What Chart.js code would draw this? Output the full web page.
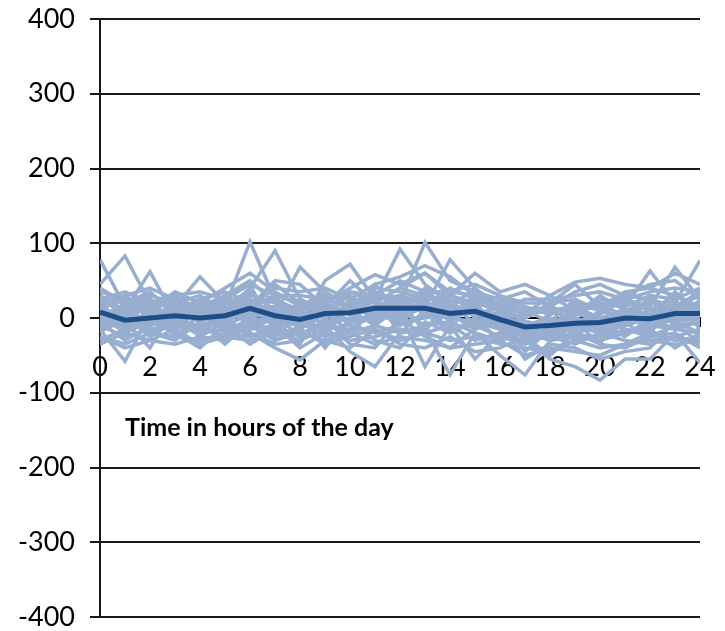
<!DOCTYPE html>
<html>
<head>
<meta charset="utf-8">
<script src="https://cdn.jsdelivr.net/npm/chart.js@4.4.1/dist/chart.umd.min.js"></script>
<style>
  html, body { margin: 0; padding: 0; background: #ffffff; }
  #wrap { width: 725px; height: 631px; position: relative; }
</style>
</head>
<body>
<div id="wrap"><canvas id="c" width="725" height="631"></canvas></div>
<script>
// Hours of the day (x categories)
const hours = [0,1,2,3,4,5,6,7,8,9,10,11,12,13,14,15,16,17,18,19,20,21,22,23,24];
// Y-axis range / tick step
const yMin = -400, yMax = 400, yStep = 100;
const xTitle = "Time in hours of the day";

// Average line (dark)
const meanSeries = [8,-3,0,3,0,3,13,3,-2,6,7,13,13,13,6,9,-2,-12,-10,-7,-6,0,-1,6,6];

// Individual day series (light)
const s1  = [78,15,25,10,5,20,35,10,0,25,15,30,20,30,15,10,0,-15,5,15,0,10,20,15,35];
const s2  = [45,83,20,-5,15,10,40,90,25,5,35,20,15,10,40,25,15,-5,-10,5,30,10,5,15,10];
const s3  = [-15,-58,5,30,10,15,102,25,10,15,5,25,92,45,20,5,0,-25,-20,10,15,5,25,10,20];
const s4  = [30,10,62,0,15,5,25,5,68,35,15,10,20,101,50,35,25,10,15,-5,5,25,15,68,25];
const s5  = [5,-5,-40,15,55,20,15,15,-15,50,72,25,30,15,78,40,15,5,10,15,20,15,63,20,77];
const s6  = [20,30,10,35,20,40,60,35,15,20,40,58,45,60,30,60,35,45,30,48,53,45,40,60,45];
const s7  = [-35,-20,-30,-35,-25,-30,-20,-40,-56,-30,-20,-35,-25,-30,-40,-35,-30,-50,-40,-45,-50,-35,-30,-25,-35];
const s8  = [0,-10,5,-20,-40,-10,-35,-15,-20,-10,-45,-65,-20,-15,-76,-20,-50,-76,-30,-20,-30,-20,-15,-40,-20];
const s9  = [10,5,-10,5,0,-5,10,-5,-10,10,5,10,5,-65,-10,-55,-20,-30,-55,-65,-83,-55,-55,-20,-60];
const s10 = [15,0,15,20,30,10,20,10,5,0,20,15,30,20,10,15,-5,-10,-5,0,-10,0,10,30,15];
const s11 = [-10,-25,-15,-10,-20,-15,-5,-20,-30,-15,-10,-20,-10,5,-15,-10,-25,-35,-20,-25,-30,-15,-25,-10,-5];
const s12 = [25,20,30,20,10,25,15,30,20,15,10,40,35,25,30,20,10,0,20,25,10,30,25,15,30];
const s13 = [-5,-15,0,-5,5,-10,5,-30,-10,5,-5,0,10,-10,5,15,-10,-20,-15,-10,-20,-10,0,-5,0];
const s14 = [35,25,15,25,15,30,50,20,10,30,25,20,40,30,20,25,20,5,30,10,20,15,30,25,40];
const s15 = [-25,-35,-20,-25,-30,-20,-25,-10,-40,-20,-30,-25,-15,-20,-30,-25,-35,-40,-45,-30,-40,-35,-20,-30,-25];
const s16 = [10,-5,0,10,-5,5,0,-5,15,5,10,5,0,15,10,5,15,-5,-10,-20,-5,5,-10,5,10];
const s17 = [0,10,-5,0,10,0,20,-10,-5,25,15,10,25,5,0,10,5,-15,-5,5,0,-5,5,0,5];
const s18 = [20,-10,10,-15,0,15,-10,5,-25,-5,10,-10,15,10,-20,0,-10,-25,-15,-5,-15,10,-5,10,-10];
const s19 = [-20,5,-25,-5,-15,-5,-15,0,-5,-25,-15,5,-5,0,5,-15,5,-10,0,-15,-5,-25,0,-15,-5];
const s20 = [5,15,5,10,25,0,30,20,0,15,20,35,10,40,25,15,30,15,5,20,10,0,20,20,15];
const s21 = [-30,-15,-5,-20,-10,-25,-30,-20,-15,-35,-25,-15,-30,-20,-10,-30,-20,-30,-25,-35,-20,-30,-35,-25,-15];
const s22 = [15,25,0,20,5,30,10,45,20,10,30,5,20,35,15,40,5,0,15,5,25,20,10,5,20];
const s23 = [-10,0,-20,-30,-5,-35,-5,-25,5,-40,0,-30,-40,-5,-20,-5,-15,-35,-10,-30,-25,-5,-30,-35,-30];
const s24 = [25,35,20,30,35,25,45,30,30,25,35,30,50,35,35,30,10,25,25,30,35,25,35,40,35];
const s25 = [-5,-30,-10,0,-25,-5,-20,-35,-30,0,-35,-40,0,-25,-40,-15,-5,-55,-35,-40,-55,-45,-40,-5,-35];
const s26 = [40,20,35,5,25,35,20,40,35,40,25,45,55,70,55,30,25,35,15,35,45,30,45,50,25];
const s27 = [0,5,20,-5,-10,0,5,0,10,-10,0,0,5,20,0,-5,0,-5,-25,0,-10,5,-15,0,0];
const s28 = [-25,-40,-30,-15,-35,-25,-10,-30,-20,-30,-40,-15,-35,-40,-25,-45,-40,-25,-50,-20,-35,-40,-25,-20,-40];
const s29 = [10,30,40,25,0,10,15,50,45,15,50,20,40,60,35,45,30,20,20,45,15,35,40,30,10];
const s30 = [-15,-5,-15,-10,-20,-15,-15,-10,-25,-5,-20,-10,-20,-10,-5,-20,-30,-20,-30,-10,-20,-20,-10,-15,-20];
const s31 = [5,-20,-5,5,-15,10,25,-5,-35,20,5,-5,20,25,-5,20,-15,-10,-30,-25,0,-15,-20,20,-10];
const s32 = [-20,10,25,-10,20,-20,0,15,5,-20,15,25,-20,10,25,-10,20,5,10,-5,-35,20,15,-10,25];
const s33 = [25,5,-25,15,-5,25,45,-20,15,35,-10,30,25,-20,35,0,-30,10,-5,25,-15,-10,30,-5,-20];
const s34 = [-5,20,15,-25,5,-15,-5,30,-15,5,-5,45,5,15,-15,30,10,-20,0,-15,10,30,-5,35,5];
const s35 = [15,-15,10,5,-20,5,35,10,-5,-15,25,-5,30,5,25,-10,0,-45,-15,15,-10,-5,25,-10,15];
const s36 = [-10,15,-10,20,0,-5,-25,-15,25,10,-20,15,-10,30,10,5,-5,-15,-25,5,20,-20,-5,25,-15];

const daySeries = [s1,s2,s3,s4,s5,s6,s7,s8,s9,s10,s11,s12,s13,s14,s15,s16,s17,s18,s19,s20,s21,s22,s23,s24,s25,s26,s27,s28,s29,s30,s31,s32,s33,s34,s35,s36];

const LIGHT = '#98aed0';
const DARK = '#1f4e87';

const datasets = [{
  label: 'Average',
  data: meanSeries,
  borderColor: DARK,
  borderWidth: 5,
  pointRadius: 0,
  tension: 0,
  fill: false,
  order: 0
}];
daySeries.forEach((s, i) => {
  datasets.push({
    label: 'Day ' + (i + 1),
    data: s,
    borderColor: LIGHT,
    borderWidth: 3.5,
    pointRadius: 0,
    tension: 0,
    fill: false,
    order: 1
  });
});

const axisTitlePlugin = {
  id: 'axisTitleInside',
  afterDraw(chart) {
    const ctx = chart.ctx;
    const xs = chart.scales.x, ys = chart.scales.y;
    ctx.save();
    ctx.font = 'bold 25px Lato';
    ctx.fillStyle = '#000';
    ctx.textAlign = 'left';
    ctx.textBaseline = 'middle';
    ctx.fillText(xTitle, xs.getPixelForValue(1), ys.getPixelForValue(-147));
    ctx.restore();
  }
};

new Chart(document.getElementById('c'), {
  type: 'line',
  data: { labels: hours, datasets: datasets },
  plugins: [axisTitlePlugin],
  options: {
    responsive: false,
    animation: false,
    events: [],
    layout: { padding: { left: 0, right: 25, top: 19, bottom: 14 } },
    plugins: { legend: { display: false }, tooltip: { enabled: false }, title: { display: false } },
    scales: {
      x: {
        type: 'linear',
        position: { y: 0 },
        min: 0, max: 24,
        afterFit(scale) { scale.paddingLeft = 10; scale.paddingRight = 10; },
        ticks: {
          stepSize: 2,
          padding: 28,
          color: '#000',
          font: { family: 'Lato', size: 27, lineHeight: 1 },
          maxRotation: 0,
          autoSkip: false
        },
        grid: { drawOnChartArea: false, drawTicks: true, tickLength: 8, color: '#000', lineWidth: 2 },
        border: { display: true, color: '#000', width: 2 }
      },
      y: {
        type: 'linear',
        position: 'left',
        min: yMin, max: yMax,
        afterFit(scale) { scale.width = 100; scale.paddingTop = 10; scale.paddingBottom = 10; },
        ticks: {
          stepSize: yStep,
          padding: 15,
          color: '#000',
          font: { family: 'Lato', size: 27, lineHeight: 1 }
        },
        grid: { color: '#1a1a1a', lineWidth: 2, tickLength: 10, drawTicks: true },
        border: { display: true, color: '#1a1a1a', width: 2 }
      }
    }
  }
});
</script>
</body>
</html>
